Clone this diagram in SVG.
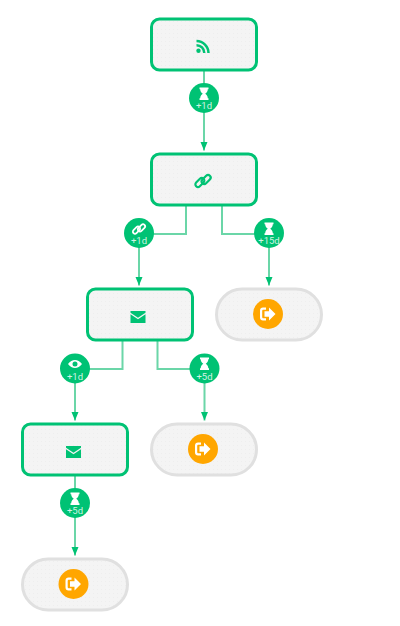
<svg xmlns="http://www.w3.org/2000/svg" width="400" height="626" viewBox="0 0 400 626">
<style>
.step{fill:url(#dots);stroke:#00c274;stroke-width:3}
.exit{fill:url(#dots);stroke:#e0e0e0;stroke-width:3}
.wire{fill:none;stroke:#6bd6a8;stroke-width:2}
.badge{fill:#00c274}
.exitbadge{fill:#ffa600}
.label{font-family:Roboto,"Liberation Sans",sans-serif;font-size:9.5px;fill:#d0f3e3;text-anchor:middle}
.ic{fill:#00c274}
.icw{fill:#fff}
</style>
<defs>
<pattern id="dots" width="4" height="4" patternUnits="userSpaceOnUse">
<rect width="4" height="4" fill="#f4f4f4"/>
<rect x="1" y="1" width="1" height="1" fill="#eeeeee"/>
</pattern>
<marker id="arrow" markerUnits="userSpaceOnUse" markerWidth="10" markerHeight="8" refX="8.500" refY="3.500" orient="auto">
<path d="M0 0L8.500 3.500L0 7Z" fill="#00c274"/>
</marker>
<g id="glass"><path class="icw" d="M-4.500-6.500H4.500V-4.800H3.800C3.800-2.500 2.500-1.200 1.200-.2 2.500.8 3.800 2.100 3.800 4.300H4.500V6H-4.500V4.300H-3.800C-3.800 2.100-2.500.8-1.200-.2-2.500-1.200-3.800-2.500-3.800-4.800H-4.500Z"/></g>
<g id="exiticon"><path class="icw" d="M-2-6.500H-5C-6.800-6.500-8-5.200-8-3.500V3.500C-8 5.200-6.800 6.500-5 6.500H-2V4.300H-4.500C-5.300 4.300-5.800 3.800-5.800 3V-3C-5.800-3.800-5.300-4.300-4.500-4.300H-2Z"/><path class="icw" d="M-3.500-2.800H1V-6.500L7.500 0 1 6.500V2.800H-3.500Z"/></g>
<g id="mail"><path class="ic" d="M-7.500-6H7.500V-4.300L0 .7-7.500-4.300Z"/><path class="ic" d="M-7.500-2.800L0 2.200 7.500-2.800V6H-7.500Z"/></g>
<g id="chain"><g transform="rotate(-45)" fill="none" stroke-width="2.200"><rect x="-8.500" y="-3.800" width="10.500" height="5.200" rx="2.600"/><rect x="-2" y="-1.400" width="10.500" height="5.200" rx="2.600"/></g></g>
</defs>
<g id="connectors">
<path class="wire" d="M204 71V150.500" marker-end="url(#arrow)"/>
<path class="wire" d="M186 206V234H139V285.500" marker-end="url(#arrow)"/>
<path class="wire" d="M222 206V234H269V285.500" marker-end="url(#arrow)"/>
<path class="wire" d="M122.500 341V369H75V420.500" marker-end="url(#arrow)"/>
<path class="wire" d="M157.500 341V369H204.500V420.500" marker-end="url(#arrow)"/>
<path class="wire" d="M75 476V555.500" marker-end="url(#arrow)"/>
</g>
<g id="node-trigger">
<rect class="step" x="151.500" y="19" width="105" height="51" rx="8"/>
<circle class="ic" cx="198.500" cy="50.800" r="2.200"/>
<path d="M196.500 45.200A7.800 7.800 0 0 1 204.300 53M196.500 41A12 12 0 0 1 208.500 53" fill="none" stroke="#00c274" stroke-width="2.500"/>
</g>
<g id="node-link">
<rect class="step" x="151.500" y="154" width="105" height="51" rx="8"/>
<use href="#chain" x="203" y="181" stroke="#00c274"/>
</g>
<g id="node-email-1">
<rect class="step" x="87.500" y="289" width="105" height="51" rx="8"/>
<use href="#mail" x="138" y="317"/>
</g>
<g id="node-email-2">
<rect class="step" x="22.500" y="424" width="105" height="51" rx="8"/>
<use href="#mail" x="73.500" y="452"/>
</g>
<g id="node-exit-1">
<rect class="exit" x="216.500" y="289" width="105" height="51" rx="25.500"/>
<circle class="exitbadge" cx="268" cy="314" r="15"/>
<use href="#exiticon" x="268" y="314"/>
</g>
<g id="node-exit-2">
<rect class="exit" x="151.500" y="424" width="105" height="51" rx="25.500"/>
<circle class="exitbadge" cx="203" cy="449" r="15"/>
<use href="#exiticon" x="203" y="449"/>
</g>
<g id="node-exit-3">
<rect class="exit" x="22.500" y="559" width="105" height="51" rx="25.500"/>
<circle class="exitbadge" cx="73.500" cy="584" r="15"/>
<use href="#exiticon" x="73.500" y="584"/>
</g>
<g id="delay-1">
<circle class="badge" cx="204" cy="98" r="15"/>
<use href="#glass" x="204" y="94"/>
<text class="label" x="204" y="109">+1d</text>
</g>
<g id="delay-2">
<circle class="badge" cx="139" cy="233" r="15"/>
<use href="#chain" transform="translate(139 229) scale(.8)" stroke="#fff"/>
<text class="label" x="139" y="244">+1d</text>
</g>
<g id="delay-3">
<circle class="badge" cx="269" cy="233" r="15"/>
<use href="#glass" x="269" y="229"/>
<text class="label" x="269" y="244">+15d</text>
</g>
<g id="delay-4">
<circle class="badge" cx="75" cy="368.500" r="15"/>
<path class="icw" fill-rule="evenodd" d="M68 364C70 361.500 72.500 360 75 360S80 361.500 82 364C80 366.500 77.500 368 75 368S70 366.500 68 364ZM75 361.500A2.500 2.500 0 1 0 75 366.500 2.500 2.500 0 1 0 75 361.500Z"/>
<text class="label" x="75" y="379.500">+1d</text>
</g>
<g id="delay-5">
<circle class="badge" cx="204.500" cy="368.500" r="15"/>
<use href="#glass" x="204.500" y="364"/>
<text class="label" x="204.500" y="379.500">+5d</text>
</g>
<g id="delay-6">
<circle class="badge" cx="75" cy="503" r="15"/>
<use href="#glass" x="75" y="499"/>
<text class="label" x="75" y="514">+5d</text>
</g>
</svg>
